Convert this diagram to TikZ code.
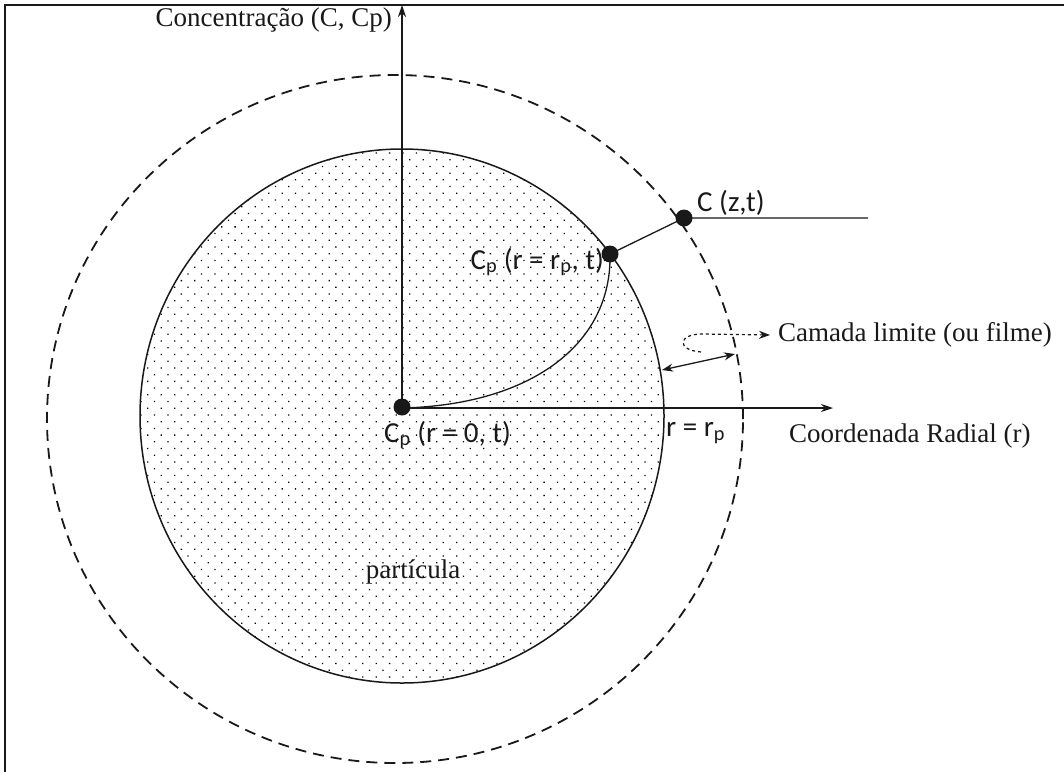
\documentclass[tikz,border=0pt]{standalone}
\usepackage{fontspec}
\setmainfont{Liberation Serif}
\newfontfamily\calfont{Carlito}
\usetikzlibrary{positioning, arrows.meta, patterns.meta, calc}
\definecolor{InkBlack}{RGB}{25,25,25}

\begin{document}
\begin{tikzpicture}[x=1pt, y=-1pt,
    ponto/.style={circle, fill=InkBlack, inner sep=0pt, minimum size=17pt},
    rotsf/.style={font=\calfont\fontsize{29}{30}\selectfont, inner sep=1pt, text=InkBlack},
    rotsr/.style={font=\fontsize{27}{30}\selectfont, inner sep=1pt, text=InkBlack},
    eixo/.style={-{Stealth[length=12pt, width=8pt]}, line width=1.3pt, InkBlack}]
    \useasboundingbox (0,0) rectangle (1064,771);
    % Moldura
    \draw[line width=2.5pt, InkBlack] (1070,5) -- (5,5) -- (5,780);

    % Circulos
    \draw[InkBlack, line width=1.8pt, dash pattern=on 11pt off 7pt] (395,419) ellipse [x radius=348pt, y radius=344pt];
    \draw[InkBlack, line width=1.5pt, pattern={Dots[distance=9.5pt, angle=45, radius=0.9pt]}] (402,416) ellipse [x radius=262pt, y radius=267pt];

    % Nos
    \coordinate (ytop) at (402,5);
    \coordinate (xend) at (833,408);
    \coordinate (zend) at (868,218);
    \coordinate (fa) at (662,370);
    \coordinate (fb) at (735,354);
    \coordinate (fc) at (701,352);

    \node[rotsr, anchor=east] (lconc) at (393,20) {Concentração (C, Cp)};
    \node[rotsf, anchor=west] (lcpc) at (383,435) {C\textsubscript{p} (r = 0, t)};
    \node[rotsf, anchor=east] (lcps) at (605,262) {C\textsubscript{p} (r = r\textsubscript{p}, t)};
    \node[rotsf, anchor=west] (lcz) at (696,203) {C (z,t)};
    \node[rotsr, anchor=west, inner xsep=8pt] (lcam) at (770,335) {Camada limite (ou filme)};
    \node[rotsr, anchor=west] (lrad) at (788,436) {Coordenada Radial (r)};
    \node[rotsf, anchor=west] (lrp) at (665,433) {r = r\textsubscript{p}};
    \node[rotsr] (lpart) at (413,572) {partícula};

    % Conexoes
    \draw[eixo] (402,407) -- (ytop);
    \draw[eixo] (402,408) -- (xend);
    \draw[line width=1.3pt, InkBlack] (402,408) .. controls (530,405) and (612,345) .. (610,254);
    \draw[line width=1.3pt, InkBlack] (610,254) -- (684,218) -- (zend);
    \draw[{Stealth[length=11pt, width=8pt]}-{Stealth[length=11pt, width=8pt]}, line width=1.3pt, InkBlack] (fa) -- (fb);
    \draw[dashed, -{Stealth[length=11pt, width=8pt]}, line width=1.2pt, InkBlack] (fc) .. controls (676,350) and (678,334) .. (702,334) -- (lcam.west);

    \node[ponto] (cpc) at (402,407) {};
    \node[ponto] (cps) at (610,254) {};
    \node[ponto] (cz) at (684,218) {};
\end{tikzpicture}
\end{document}
